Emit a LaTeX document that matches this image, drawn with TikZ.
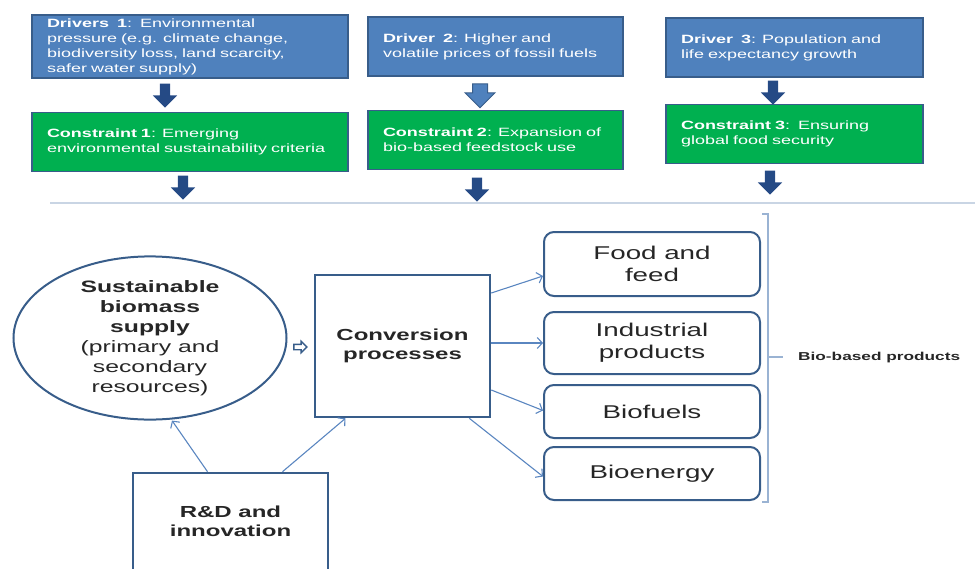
\documentclass[tikz,border=0pt]{standalone}
\usepackage{fontspec}
\setmainfont{Liberation Sans}[FakeStretch=1.5]
\usepackage{tikz}
\usetikzlibrary{arrows.meta,positioning,shapes.geometric,shapes.arrows}

\definecolor{drvblue}{HTML}{4F81BD}
\definecolor{conGreen}{HTML}{00B050}
\definecolor{edgeblue}{HTML}{385D8A}
\definecolor{arrowdark}{HTML}{254A85}
\definecolor{linkblue}{HTML}{5A86C0}
\definecolor{rulegrey}{HTML}{C9D5E4}
\definecolor{bracketblue}{HTML}{9AB3D3}
\definecolor{txt}{HTML}{262626}

\tikzset{
  topbox/.style={rectangle, draw=edgeblue, line width=1.2pt, text=white,
    align=left, inner xsep=15pt, font=\fontsize{12}{15}\selectfont,
    minimum height=59pt},
  driver/.style={topbox, fill=drvblue},
  constraint/.style={topbox, fill=conGreen},
  downarrow/.style={single arrow, rotate=-90, inner xsep=0pt, inner ysep=5pt, draw=none,
    fill=arrowdark, minimum height=24pt, minimum width=24pt,
    single arrow head extend=7pt, single arrow head indent=0pt},
  product/.style={rectangle, rounded corners=10pt, draw=edgeblue, line width=2pt,
    text=txt, minimum width=216pt, align=center,
    font=\fontsize{18.5}{21.7}\selectfont},
  squarebox/.style={rectangle, draw=edgeblue, line width=2.6pt, text=txt,
    align=center, font=\bfseries\fontsize{16}{19.5}\selectfont},
  link/.style={draw=linkblue, line width=1.1pt, -{Straight Barb[length=5pt,width=11pt]}}
}

\begin{document}
\begin{tikzpicture}[x=1pt,y=1pt]
\useasboundingbox (0,0) rectangle (975,-568);

% drivers and constraints
\node[driver, minimum width=316pt, text width=286pt] (drv1) at (190,-46.5)
  {\textbf{Drivers\ \ 1}:\ \ Environmental\\pressure (e.g. climate change,\\
   biodiversity loss, land scarcity,\\safer water supply)};
\node[driver, minimum width=255pt, text width=225pt] (drv2) at (495.5,-46.5)
  {\textbf{Driver\ \ 2}: Higher and\\volatile prices of fossil fuels};
\node[driver, minimum width=257pt, text width=227pt] (drv3) at (794.5,-47.5)
  {\textbf{Driver\ \ 3}: Population and\\life expectancy growth};

\node[constraint, minimum width=316pt, text width=286pt, below=33pt of drv1] (con1)
  {\textbf{Constraint 1}: Emerging\\environmental sustainability criteria};
\node[constraint, minimum width=255pt, text width=225pt, below=33pt of drv2] (con2)
  {\textbf{Constraint 2}: Expansion of\\bio-based feedstock use};
\node[constraint, minimum width=257pt, text width=227pt, below=26pt of drv3] (con3)
  {\textbf{Constraint 3}:\ \ Ensuring\\global food security};

\node[downarrow] (dn1) at (165,-93) {};
\node[downarrow, fill=drvblue, draw=edgeblue, line width=1pt, inner ysep=7pt,
  minimum width=29pt, single arrow head extend=7.5pt] (dn2) at (480,-92) {};
\node[downarrow] (dn3) at (773,-90) {};
\node[downarrow] (dn4) at (183,-185) {};
\node[downarrow] (dn5) at (477,-187) {};
\node[downarrow] (dn6) at (770,-180) {};

\coordinate (ruleL) at (50,-203);
\coordinate (ruleR) at (975,-203);
\draw[rulegrey, line width=1.5pt] (ruleL) -- (ruleR);

% biomass chain
\node[ellipse, draw=edgeblue, line width=2pt, minimum width=273pt, minimum height=146pt,
  inner sep=0pt, text=txt, align=center, font=\fontsize{16.5}{20}\selectfont] (supply) at (150,-338)
  {\textbf{Sustainable}\\\textbf{biomass}\\\textbf{supply}\\(primary and\\secondary\\resources)};
\node[squarebox, minimum width=175pt, minimum height=142pt] (conv) at (402.5,-346)
  {Conversion\\processes};
\node[squarebox, minimum width=195pt, minimum height=97pt] (rd) at (230.5,-521.5)
  {R\&D and\\innovation};
\node[single arrow, draw=edgeblue, fill=white, line width=1.4pt, inner xsep=0pt,
  inner ysep=2pt, minimum height=13pt, minimum width=10pt, single arrow head extend=3pt,
  single arrow head indent=0pt] (feed) at (299,-347) {};

% products
\node[product, minimum height=64pt] (food) at (652,-264) {Food and\\feed};
\node[product, minimum height=62pt] (ind) at (652,-343) {Industrial\\products};
\node[product, minimum height=53pt] (fuel) at (652,-411.5) {Biofuels};
\node[product, minimum height=53pt] (energy) at (652,-473.5) {Bioenergy};

\draw[link] ([yshift=53pt]conv.east) -- ([yshift=-12pt]food.west);
\draw[link] (conv.east |- ind.west) -- (ind.west);
\draw[link] ([yshift=-44pt]conv.east) -- ([yshift=1pt]fuel.west);
\draw[link] ([xshift=-22pt]conv.south east) -- ([yshift=-3pt]energy.west);
\draw[link] ([xshift=-23pt]rd.north) -- ([xshift=22pt]supply.south);
\draw[link] ([xshift=52pt]rd.north) -- ([xshift=-57pt]conv.south);

% bracket
\coordinate (brTop) at (768,-214);
\coordinate (brBot) at (768,-502);
\coordinate (brMid) at (768,-357);
\node[anchor=west, inner sep=0pt, text=txt, font=\bfseries\fontsize{11.5}{14}\selectfont]
  (biobased) at (798,-358) {Bio-based products};
\draw[bracketblue, line width=1.2pt] ([xshift=-6pt]brTop) -- (brTop) -- (brBot) -- ([xshift=-6pt]brBot);
\draw[bracketblue, line width=1.2pt] (brMid) -- ([xshift=-15pt]biobased.west |- brMid);
\end{tikzpicture}
\end{document}
